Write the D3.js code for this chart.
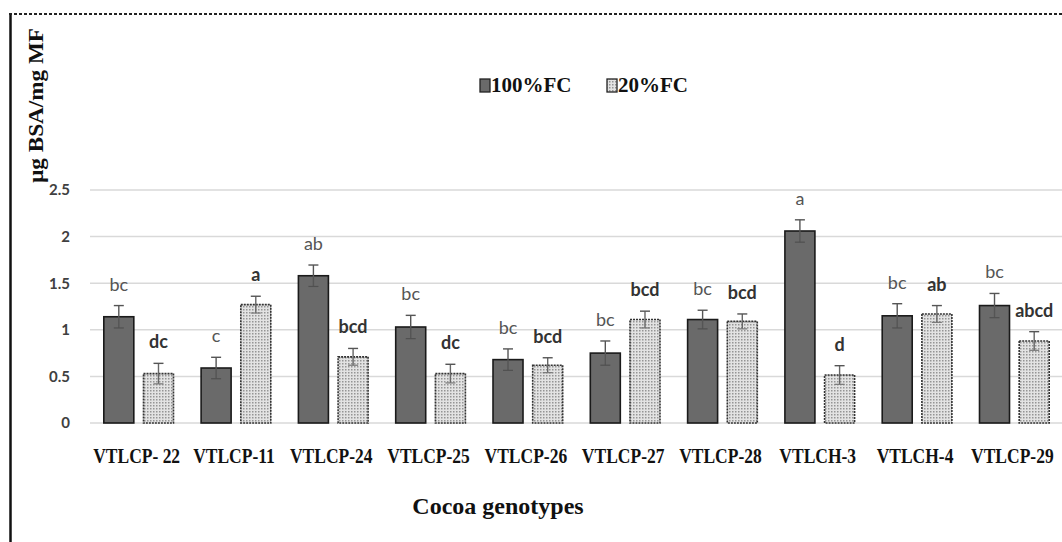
<!DOCTYPE html>
<html>
<head>
<meta charset="utf-8">
<script src="https://cdn.jsdelivr.net/npm/d3@7"></script>
<style>
  html, body { margin: 0; padding: 0; background: #fff; }
  svg { display: block; }
</style>
</head>
<body>
<svg id="chart" width="1062" height="542"></svg>
<script>
// Protein content per cocoa genotype under two irrigation regimes
const categories = ["VTLCP- 22", "VTLCP-11", "VTLCP-24", "VTLCP-25", "VTLCP-26",
                    "VTLCP-27", "VTLCP-28", "VTLCH-3", "VTLCH-4", "VTLCP-29"];
const seriesNames = ["100%FC", "20%FC"];
const fc100 = [1.14, 0.59, 1.58, 1.03, 0.68, 0.75, 1.11, 2.06, 1.15, 1.26];
const fc100Err = [0.12, 0.115, 0.115, 0.125, 0.115, 0.13, 0.10, 0.12, 0.13, 0.13];
const fc20 = [0.53, 1.27, 0.71, 0.53, 0.62, 1.11, 1.09, 0.515, 1.17, 0.88];
const fc20Err = [0.11, 0.09, 0.09, 0.10, 0.08, 0.09, 0.08, 0.10, 0.09, 0.10];
const fc100Letters = ["bc", "c", "ab", "bc", "bc", "bc", "bc", "a", "bc", "bc"];
const fc20Letters = ["dc", "a", "bcd", "dc", "bcd", "bcd", "bcd", "d", "ab", "abcd"];
const yTicks = [0, 0.5, 1, 1.5, 2, 2.5];

const svg = d3.select("#chart");

// outer frame: solid left rule, dashed top rule
svg.append("line").attr("x1", 10.5).attr("x2", 10.5).attr("y1", 13).attr("y2", 542)
  .attr("stroke", "#111").attr("stroke-width", 2.5);
svg.append("line").attr("x1", 9).attr("x2", 1062).attr("y1", 14).attr("y2", 14)
  .attr("stroke", "#222").attr("stroke-width", 2).attr("stroke-dasharray", "3,2");

// dotted fill for the stressed treatment
const defs = svg.append("defs");
const pat = defs.append("pattern").attr("id", "dots")
  .attr("width", 3).attr("height", 3).attr("patternUnits", "userSpaceOnUse");
pat.append("rect").attr("width", 3).attr("height", 3).attr("fill", "#e3e3e3");
pat.append("rect").attr("x", 0).attr("y", 0).attr("width", 1.5).attr("height", 1.5).attr("fill", "#959595");

const x = d3.scaleBand().domain(categories).range([90, 1063]).paddingInner(0).paddingOuter(0);
const xs = d3.scaleBand().domain(seriesNames).range([0, x.bandwidth()])
  .paddingInner(0.244).paddingOuter(0.348);
const y = d3.scaleLinear().domain([0, 2.5]).range([423, 190]);

// gridlines
svg.append("g").selectAll("line").data(yTicks).join("line")
  .attr("x1", 90).attr("x2", 1063)
  .attr("y1", d => y(d)).attr("y2", d => y(d))
  .attr("stroke", "#d9d9d9").attr("stroke-width", 1.5);

// y axis labels
const yAxis = svg.append("g").attr("transform", "translate(70,0)")
  .call(d3.axisLeft(y).tickValues(yTicks).tickSize(0).tickPadding(0)
    .tickFormat(d => d3.format("")(d)));
yAxis.select(".domain").remove();
yAxis.selectAll("text")
  .attr("font-family", "Lato, 'Open Sans', sans-serif")
  .attr("font-weight", "bold").attr("font-size", 15).attr("fill", "#404040");

// x axis labels (slightly tall serif lettering)
const xAxis = svg.append("g").attr("transform", "translate(-2,445)")
  .call(d3.axisBottom(x).tickSize(0).tickPadding(0));
xAxis.select(".domain").remove();
xAxis.selectAll("text")
  .attr("font-family", "'Liberation Serif', 'Times New Roman', serif")
  .attr("font-weight", "bold").attr("font-size", 17.5).attr("fill", "#111")
  .attr("dy", "0.88em")
  .attr("transform", "scale(1,1.2)");

const rows = categories.map((c, i) => [
  { cat: c, s: seriesNames[0], v: fc100[i], e: fc100Err[i], t: fc100Letters[i] },
  { cat: c, s: seriesNames[1], v: fc20[i], e: fc20Err[i], t: fc20Letters[i] }
]).flat();

const cx = d => x(d.cat) + xs(d.s) + xs.bandwidth() / 2;

// bars
svg.append("g").selectAll("rect").data(rows).join("rect")
  .attr("x", d => x(d.cat) + xs(d.s))
  .attr("y", d => y(d.v))
  .attr("width", xs.bandwidth())
  .attr("height", d => y(0) - y(d.v))
  .attr("fill", d => d.s === seriesNames[0] ? "#6a6a6a" : "url(#dots)")
  .attr("stroke", d => d.s === seriesNames[0] ? "#1a1a1a" : "#333")
  .attr("stroke-width", 1.6)
  .attr("stroke-dasharray", d => d.s === seriesNames[0] ? null : "2,1");

// error bars
const eb = svg.append("g").selectAll("g").data(rows).join("g");
eb.append("line")
  .attr("x1", cx).attr("x2", cx)
  .attr("y1", d => y(d.v - d.e)).attr("y2", d => y(d.v + d.e))
  .attr("stroke", d => d.s === seriesNames[0] ? "#555" : "#666").attr("stroke-width", 1.4);
eb.append("line")
  .attr("x1", d => cx(d) - 5).attr("x2", d => cx(d) + 5)
  .attr("y1", d => y(d.v + d.e)).attr("y2", d => y(d.v + d.e))
  .attr("stroke", "#555").attr("stroke-width", 1.4);
eb.append("line")
  .attr("x1", d => cx(d) - 5).attr("x2", d => cx(d) + 5)
  .attr("y1", d => y(d.v - d.e)).attr("y2", d => y(d.v - d.e))
  .attr("stroke", d => d.s === seriesNames[0] ? "#505050" : "#777").attr("stroke-width", 1.2);

// significance letters
svg.append("g").selectAll("text").data(rows).join("text")
  .attr("x", cx)
  .attr("y", d => y(d.v + d.e) - 15)
  .attr("text-anchor", "middle")
  .attr("font-family", "Lato, 'Open Sans', sans-serif")
  .attr("font-size", 18)
  .attr("font-weight", d => d.s === seriesNames[0] ? "normal" : "bold")
  .attr("fill", d => d.s === seriesNames[0] ? "#555" : "#333")
  .text(d => d.t);

// legend
const legend = svg.append("g");
const legX = [480, 607];
seriesNames.forEach((s, i) => {
  legend.append("rect").attr("x", legX[i]).attr("y", 79).attr("width", 10).attr("height", 13)
    .attr("fill", i === 0 ? "#6a6a6a" : "url(#dots)")
    .attr("stroke", "#222").attr("stroke-width", 1.3);
  legend.append("text").attr("x", legX[i] + 11).attr("y", 92)
    .attr("font-family", "'Liberation Serif', 'Times New Roman', serif")
    .attr("font-weight", "bold").attr("font-size", 21).attr("fill", "#111")
    .text(s);
});

// axis titles
svg.append("text")
  .attr("transform", "translate(43,105.5) rotate(-90)")
  .attr("text-anchor", "middle")
  .attr("font-family", "'Liberation Serif', 'Times New Roman', serif")
  .attr("font-weight", "bold").attr("font-size", 21).attr("fill", "#111")
  .attr("textLength", 155).attr("lengthAdjust", "spacingAndGlyphs")
  .text("µg BSA/mg MF");

svg.append("text")
  .attr("x", 498).attr("y", 514)
  .attr("text-anchor", "middle")
  .attr("font-family", "'Liberation Serif', 'Times New Roman', serif")
  .attr("font-weight", "bold").attr("font-size", 24).attr("fill", "#111")
  .text("Cocoa genotypes");
</script>
</body>
</html>
